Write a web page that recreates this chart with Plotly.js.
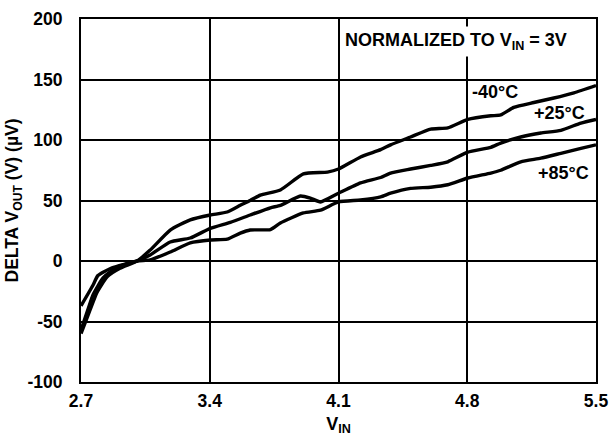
<!DOCTYPE html>
<html>
<head>
<meta charset="utf-8">
<script src="https://cdn.plot.ly/plotly-3.0.1.min.js"></script>
<style>html,body{margin:0;padding:0;background:#fff;}#chart{width:610px;height:441px;}</style>
</head>
<body>
<div id="chart"></div>
<script>
// Data
const xTicks = [2.7, 3.4, 4.1, 4.8, 5.5];
const xTickText = ['2.7', '3.4', '4.1', '4.8', '5.5'];
const yTicks = [-100, -50, 0, 50, 100, 150, 200];
const yTickText = ['-100', '-50', '0', '50', '100', '150', '200'];

const xM40 = [2.70, 2.738, 2.787, 2.842, 2.912, 3.005, 3.076, 3.185, 3.294, 3.403, 3.495, 3.566, 3.62, 3.675, 3.784, 3.909, 4.04, 4.10, 4.22, 4.329, 4.383, 4.492, 4.601, 4.694, 4.803, 4.928, 4.982, 5.053, 5.162, 5.271, 5.38, 5.50];
const yM40 = [-60, -45, -26, -13, -6, 0, 9, 25.6, 34, 38, 40.5, 46, 50, 54.5, 58.7, 72, 73.5, 76, 86, 92, 96, 102.5, 109, 110, 117, 120, 120.7, 127, 131, 134.7, 139, 145];

const xP25 = [2.70, 2.738, 2.765, 2.82, 2.896, 3.005, 3.076, 3.185, 3.294, 3.403, 3.512, 3.62, 3.73, 3.784, 3.893, 3.947, 4.002, 4.10, 4.22, 4.329, 4.383, 4.492, 4.601, 4.694, 4.803, 4.928, 4.982, 5.091, 5.20, 5.309, 5.418, 5.50];
const yP25 = [-57, -40, -28, -14, -5, 0, 5, 15.7, 19, 27, 32, 38, 44, 46, 53.7, 52, 48.8, 56, 64.5, 69, 72.7, 76, 79, 82, 90, 94, 97.5, 102.5, 105.8, 108, 114, 117];

const xP85 = [2.70, 2.765, 2.792, 2.863, 3.005, 3.076, 3.185, 3.294, 3.403, 3.495, 3.566, 3.62, 3.73, 3.784, 3.909, 4.002, 4.10, 4.22, 4.329, 4.383, 4.492, 4.601, 4.694, 4.803, 4.928, 4.982, 5.091, 5.20, 5.309, 5.418, 5.50];
const yP85 = [-37, -20, -12, -6, 0, 1, 7.4, 15, 17.4, 18, 23, 25.6, 26, 31.4, 39.7, 42, 48.8, 50.4, 53, 56, 60, 61, 63, 68.6, 72.7, 75, 82, 85, 89, 93, 96];

const seriesNames = ['-40°C', '+25°C', '+85°C'];

const FONT = 'Liberation Sans, Arial, Helvetica, sans-serif';
const lineStyle = {color: '#000', width: 3.4, shape: 'spline', smoothing: 0.5};
const boldFont = (s) => ({family: FONT, size: s, weight: 700, color: '#000'});

const traces = [
  {x: xM40, y: yM40, name: seriesNames[0], mode: 'lines', line: lineStyle},
  {x: xP25, y: yP25, name: seriesNames[1], mode: 'lines', line: lineStyle},
  {x: xP85, y: yP85, name: seriesNames[2], mode: 'lines', line: lineStyle}
];

const layout = {
  width: 610, height: 441,
  margin: {l: 81, r: 14, t: 19, b: 59},
  paper_bgcolor: '#fff', plot_bgcolor: '#fff',
  showlegend: false,
  font: boldFont(17),
  xaxis: {
    range: [2.7, 5.5], tickvals: xTicks, ticktext: xTickText,
    showgrid: true, gridcolor: '#000', gridwidth: 2,
    showline: true, linecolor: '#000', linewidth: 2, mirror: true,
    zeroline: false, ticks: '', ticklabelstandoff: 2,
    tickfont: boldFont(17.5),
    title: {text: 'V<sub>IN</sub>', font: boldFont(18), standoff: 7}
  },
  yaxis: {
    range: [-100, 200], tickvals: yTicks, ticktext: yTickText,
    showgrid: true, gridcolor: '#000', gridwidth: 2,
    showline: true, linecolor: '#000', linewidth: 2, mirror: true,
    zeroline: false, ticks: '', ticklabelstandoff: 13,
    tickfont: boldFont(17.5),
    title: {text: 'DELTA V<sub>OUT</sub> (V) (µV)', font: boldFont(17.5), standoff: 4}
  },
  annotations: [
    {x: 456, y: 42, text: 'NORMALIZED TO V<sub>IN</sub> = 3V', bgcolor: '#fff', borderpad: 3, font: boldFont(18)},
    {x: 495, y: 92, text: seriesNames[0], font: boldFont(18)},
    {x: 559, y: 113, text: seriesNames[1], font: boldFont(18)},
    {x: 563, y: 173, text: seriesNames[2], font: boldFont(18)}
  ]
};

// Convert annotation pixel positions into paper coordinates
const plotW = 610 - 81 - 14, plotH = 441 - 19 - 59;
layout.annotations = layout.annotations.map(a => Object.assign({}, a, {
  xref: 'paper', yref: 'paper', showarrow: false,
  x: (a.x - 81) / plotW, y: 1 - (a.y - 19) / plotH,
  xanchor: 'center', yanchor: 'middle'
}));

Plotly.newPlot('chart', traces, layout, {staticPlot: true, displayModeBar: false});
</script>
</body>
</html>
